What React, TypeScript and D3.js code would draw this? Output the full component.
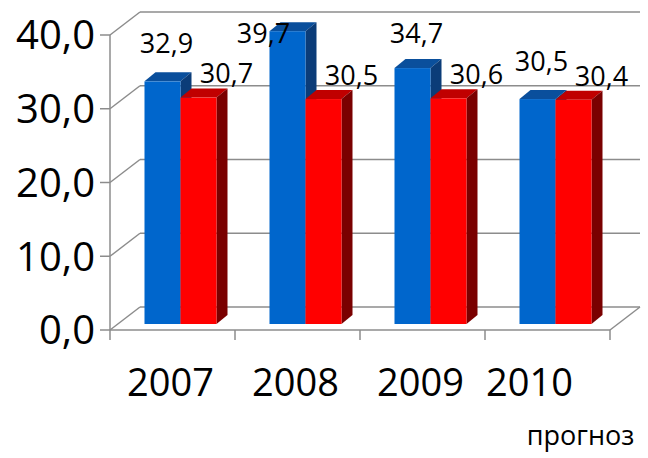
import React from 'react';
import * as d3 from 'd3';

const years = ['2007', '2008', '2009', '2010'];
const seriesKeys = ['a', 'b'];
const seriesA = [32.9, 39.7, 34.7, 30.5];
const seriesB = [30.7, 30.5, 30.6, 30.4];
const yTicks = [0, 10, 20, 30, 40];

const W = 648;
const H = 458;
const FONT = '"Open Sans", "Noto Sans", sans-serif';

// 3D geometry: floor depth offset, bar front offset, bar depth
const depth = { dx: 30, dy: -23 };
const front = { dx: 8, dy: -6 };
const barDepth = { dx: 11, dy: -9 };

const colors = [
  { front: '#0066cc', top: '#0a4f9c', side: '#0b3c78' },
  { front: '#ff0000', top: '#c00000', side: '#7a0000' },
];

const fmt = (v: number) => v.toFixed(1).replace('.', ',');

const App: React.FC = () => {
  const x = d3.scaleBand<string>().domain(years).range([110, 610]).padding(0);
  const inner = d3
    .scaleBand<string>()
    .domain(seriesKeys)
    .range([0, x.bandwidth()])
    .paddingInner(0)
    .paddingOuter(0.736);
  const y = d3.scaleLinear().domain([0, 40]).range([330, 35]);

  const grid = '#8c8c8c';
  const y0 = y(0);

  const bars: React.ReactNode[] = [];
  const labels: React.ReactNode[] = [];

  years.forEach((yr, i) => {
    [seriesA[i], seriesB[i]].forEach((v, s) => {
      const c = colors[s];
      const x0 = (x(yr) as number) + (inner(seriesKeys[s]) as number) + front.dx;
      const x1 = x0 + inner.bandwidth();
      const yb = y0 + front.dy;
      const yt = y(v) + front.dy;
      const { dx, dy } = barDepth;
      bars.push(
        <g key={`${yr}-${s}`}>
          <polygon
            points={`${x0},${yt} ${x0 + dx},${yt + dy} ${x1 + dx},${yt + dy} ${x1},${yt}`}
            fill={c.top}
          />
          <polygon
            points={`${x1},${yt} ${x1 + dx},${yt + dy} ${x1 + dx},${yb + dy} ${x1},${yb}`}
            fill={c.side}
          />
          <rect x={x0} y={yt} width={x1 - x0} height={yb - yt} fill={c.front} />
        </g>
      );

      // data labels sit above and right of the bar tops
      const cx = (x0 + x1) / 2;
      let lx: number;
      let ly: number;
      if (s === 0) {
        ly = yt - 38;
        lx = cx + 4;
        if (ly < 20) {
          ly = 33;
          lx = cx - 24;
        }
        ly = Math.max(ly, 33);
      } else {
        ly = yt - 24;
        lx = cx + 28;
      }
      labels.push(
        <text
          key={`l-${yr}-${s}`}
          x={lx}
          y={ly}
          dy="0.36em"
          textAnchor="middle"
          fontSize={27}
          fontFamily={FONT}
          fill="#000"
        >
          {fmt(v)}
        </text>
      );
    });
  });

  const xL = 110;
  const xR = 610;

  return (
    <svg
      width={W}
      height={H}
      viewBox={`0 0 ${W} ${H}`}
      style={{ position: 'absolute', left: 0, top: 0, background: '#fff' }}
    >
      {/* back wall gridlines and left wall diagonals */}
      {yTicks.map((t) => (
        <g key={`g-${t}`} stroke={grid} strokeWidth={1.5} fill="none">
          <line x1={xL + depth.dx} x2={xR + depth.dx} y1={y(t) + depth.dy} y2={y(t) + depth.dy} />
          <line x1={xL} x2={xL + depth.dx} y1={y(t)} y2={y(t) + depth.dy} />
          <line x1={xL - 10} x2={xL} y1={y(t)} y2={y(t)} />
        </g>
      ))}
      {/* floor */}
      <g stroke={grid} strokeWidth={1.5} fill="none">
        <line x1={xL} x2={xL} y1={y(40)} y2={y0 + 10} />
        <line x1={xL} x2={xR} y1={y0} y2={y0} />
        <line x1={xR} x2={xR + depth.dx} y1={y0} y2={y0 + depth.dy} />
        {years.map((yr) => {
          const tx = (x(yr) as number) + x.bandwidth();
          return <line key={`t-${yr}`} x1={tx} x2={tx} y1={y0} y2={y0 + 10} />;
        })}
      </g>

      {bars}

      {/* y axis labels */}
      {yTicks.map((t) => (
        <text
          key={`yl-${t}`}
          x={95}
          y={y(t)}
          dy="0.36em"
          textAnchor="end"
          fontSize={40}
          fontFamily={FONT}
          fill="#000"
        >
          {fmt(t)}
        </text>
      ))}

      {/* category labels */}
      {years.map((yr, i) => {
        const cx = (x(yr) as number) + x.bandwidth() / 2 - (i === years.length - 1 ? 18 : 2);
        return (
          <text
            key={`xl-${yr}`}
            x={cx}
            y={396}
            textAnchor="middle"
            fontSize={38}
            fontFamily={FONT}
            fill="#000"
          >
            {yr}
          </text>
        );
      })}
      <text
        x={(x('2010') as number) + x.bandwidth() / 2 + 33}
        y={445}
        textAnchor="middle"
        fontSize={27}
        fontFamily={FONT}
        fill="#000"
      >
        прогноз
      </text>

      {labels}
    </svg>
  );
};

export default App;
